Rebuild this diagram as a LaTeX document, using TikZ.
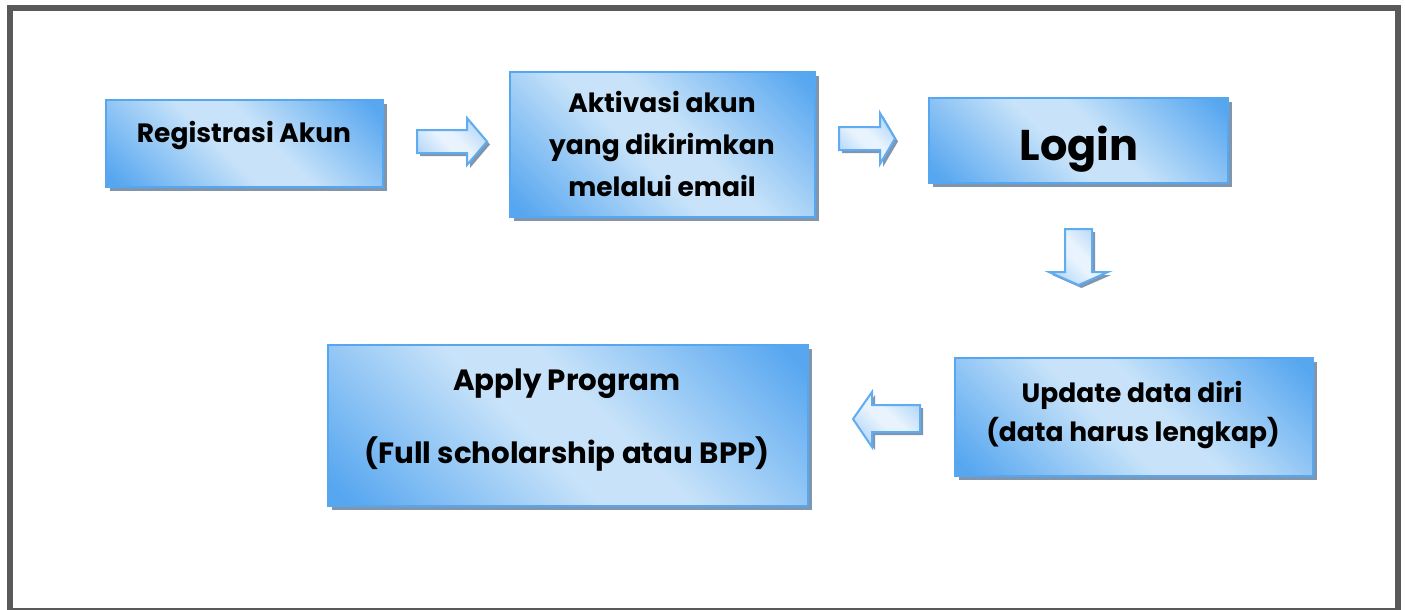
\documentclass[tikz,border=0pt]{standalone}
\usepackage{fontspec}
\setmainfont{Poppins}
\usetikzlibrary{shadows}
\definecolor{bdark}{RGB}{86,166,240}
\definecolor{blight}{RGB}{200,227,249}
\definecolor{shad}{RGB}{128,150,175}
\definecolor{framegray}{RGB}{89,89,89}
\definecolor{aedge}{RGB}{95,172,240}
\definecolor{alight}{RGB}{232,243,253}
\definecolor{amid}{RGB}{160,204,247}
\pgfdeclareverticalshading{boxshade}{100bp}{color(0bp)=(bdark); color(17bp)=(bdark); color(45bp)=(blight); color(55bp)=(blight); color(83bp)=(bdark); color(100bp)=(bdark)}
\pgfdeclareverticalshading{arrowshade}{100bp}{color(0bp)=(amid); color(15bp)=(amid); color(45bp)=(alight); color(55bp)=(alight); color(85bp)=(amid); color(100bp)=(amid)}
\tikzset{
  box/.style={rectangle, draw=bdark, line width=1.5pt,
    shading=boxshade, shading angle=-45,
    drop shadow={shadow xshift=4pt, shadow yshift=-4pt, fill=shad, opacity=1}},
  lbl/.style={anchor=base, inner sep=0pt, font=\bfseries\fontsize{26.5}{28}\selectfont},
  biglbl/.style={anchor=base, inner sep=0pt, font=\bfseries\fontsize{43}{45}\selectfont},
  midlbl/.style={anchor=base, inner sep=0pt, font=\bfseries\fontsize{29.3}{31}\selectfont},
  barrow/.style={draw=aedge, line width=2pt, line join=miter,
    shading=arrowshade, shading angle=-45,
    drop shadow={shadow xshift=3pt, shadow yshift=-3pt, fill=shad, opacity=1}},
  framel/.style={draw=framegray}
}
\begin{document}
\begin{tikzpicture}[x=1pt, y=-1pt]
\useasboundingbox (0,0) rectangle (1405,610);
% frame
\draw[framel, line width=6pt] (10,609) -- (10,8) -- (1398,8) -- (1398,609);
\draw[framel, line width=2pt] (7,609) -- (1401,609);

% boxes
\node[box, minimum width=277pt, minimum height=87pt] (reg) at (244.5,143.5) {};
\node[box, minimum width=305pt, minimum height=145pt] (akt) at (662.5,144.5) {};
\node[box, minimum width=299pt, minimum height=85pt] (login) at (1078.5,140.5) {};
\node[box, minimum width=358pt, minimum height=118pt] (upd) at (1134,417) {};
\node[box, minimum width=480pt, minimum height=161pt] (app) at (568,425.5) {};

% texts
\node[lbl] (t1) at (244,142.5) {Registrasi Akun};
\node[lbl] (t2a) at (662,112.3) {Aktivasi akun};
\node[lbl] (t2b) at (662,154.3) {yang dikirimkan};
\node[lbl] (t2c) at (662,196.7) {melalui email};
\node[biglbl] (t3) at (1079,160) {Login};
\node[lbl] (t4a) at (1132,402.3) {Update data diri};
\node[lbl] (t4b) at (1133,441.7) {(data harus lengkap)};
\node[midlbl] (t5a) at (567,390) {Apply Program};
\node[midlbl] (t5b) at (567,463.3) {(Full scholarship atau BPP)};

% block arrows
\path[barrow] (417,130) -- (467,130) -- (467,118) -- (487,141.5) -- (467,165) -- (467,153) -- (417,153) -- cycle;
\path[barrow] (839,127) -- (880,127) -- (880,113) -- (895,138.5) -- (880,164) -- (880,150) -- (839,150) -- cycle;
\path[barrow] (1065,229) -- (1092,229) -- (1092,272) -- (1108,272) -- (1078.5,285) -- (1049,272) -- (1065,272) -- cycle;
\path[barrow] (920,405) -- (872,405) -- (872,392) -- (853,419) -- (872,447) -- (872,432) -- (920,432) -- cycle;
\end{tikzpicture}
\end{document}
